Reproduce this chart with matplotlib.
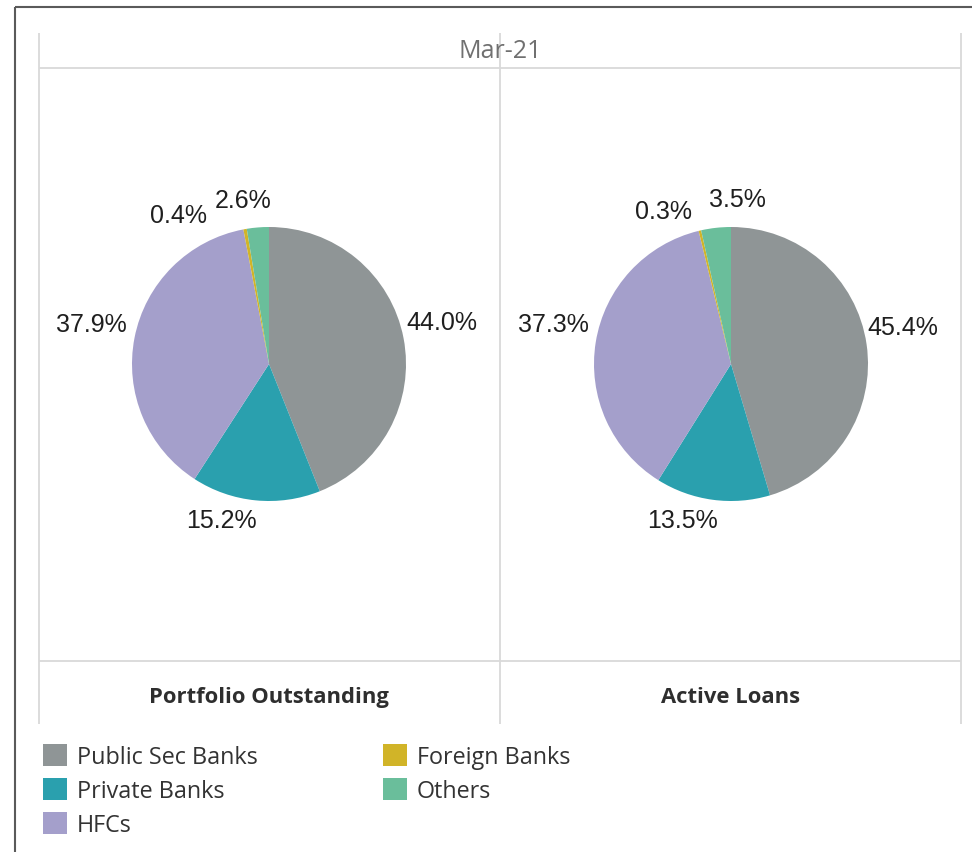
import numpy as np
import matplotlib
matplotlib.use("Agg")
import matplotlib.pyplot as plt
from matplotlib.lines import Line2D
from matplotlib.patches import Rectangle

# ---- data ----
period = "Mar-21"
segments = ["Public Sec Banks", "Private Banks", "HFCs", "Foreign Banks", "Others"]
portfolio_outstanding = [44.0, 15.2, 37.9, 0.4, 2.6]
active_loans = [45.4, 13.5, 37.3, 0.3, 3.5]
panel_titles = ["Portfolio Outstanding", "Active Loans"]

# ---- styling ----
colors = ["#8f9596", "#2aa0ae", "#a49fcb", "#d1b428", "#6abe9b"]
W, H = 972, 853
fig = plt.figure(figsize=(W / 100, H / 100), dpi=100)
fig.patch.set_facecolor("white")

def fx(px):
    return px / W

def fy(py):
    return 1 - py / H

def hline(y, x0, x1, color, lw):
    fig.add_artist(Line2D([fx(x0), fx(x1)], [fy(y), fy(y)], transform=fig.transFigure,
                          color=color, lw=lw, solid_capstyle="butt"))

def vline(x, y0, y1, color, lw):
    fig.add_artist(Line2D([fx(x), fx(x)], [fy(y0), fy(y1)], transform=fig.transFigure,
                          color=color, lw=lw, solid_capstyle="butt"))

# outer frame
frame_col = "#5a5a5a"
hline(8, 15, 972, frame_col, 1.5)
vline(15, 8, 853, frame_col, 1.5)

# panel grid
grid_col = "#d9d9d9"
for x in (39, 500, 961):
    vline(x, 34, 725, grid_col, 1.3)
hline(69, 39, 961, grid_col, 1.3)
hline(662, 39, 961, grid_col, 1.3)

fig.text(fx(500), fy(51), period, ha="center", va="center",
         fontsize=18, color="#707070", family="Open Sans")

# label nudges (data units, radius = 1) relative to the radial anchor
nudges = [
    [(0.065, 0.078), (-0.227, 0.075), (-0.096, 0.06), (-0.444, -0.115), (-0.09, -0.02)],
    [(0.048, 0.094), (-0.187, 0.07), (-0.095, 0.097), (-0.219, -0.071), (0.178, -0.009)],
]

R_PX = 137
LIM = 1.6
centers = [(269, 365), (731, 365)]
for i, (vals, (cx, cy)) in enumerate(zip([portfolio_outstanding, active_loans], centers)):
    half = R_PX * LIM
    ax = fig.add_axes([fx(cx - half), fy(cy + half), 2 * half / W, 2 * half / H])
    wedges, _ = ax.pie(vals, colors=colors, startangle=90, counterclock=False,
                       radius=1.0, wedgeprops=dict(linewidth=0))
    ax.set_xlim(-LIM, LIM)
    ax.set_ylim(-LIM, LIM)
    ax.set_aspect("equal")
    ax.axis("off")
    for w, v, (dx, dy) in zip(wedges, vals, nudges[i]):
        ang = np.deg2rad((w.theta1 + w.theta2) / 2)
        x = 1.22 * np.cos(ang) + dx
        y = 1.22 * np.sin(ang) + dy
        ax.text(x, y, f"{v:.1f}%", ha="center", va="center", fontsize=18,
                color="#1f1f1f", family="Liberation Sans", clip_on=False)
    fig.text(fx(cx), fy(698), panel_titles[i], ha="center", va="center",
             fontsize=15.8, fontweight="bold", color="#2e2e2e", family="Open Sans")

# legend
legend_pos = [(43, 756), (43, 790), (43, 824), (383, 756), (383, 790)]
for name, col, (lx, ly) in zip(segments, colors, legend_pos):
    fig.add_artist(Rectangle((fx(lx), fy(ly + 11)), 24 / W, 22 / H,
                             transform=fig.transFigure, facecolor=col, edgecolor="none"))
    fig.text(fx(lx + 34), fy(ly + 2), name, ha="left", va="center", fontsize=16.8,
             color="#333333", family="Open Sans")

fig.savefig("out.png", dpi=100)
